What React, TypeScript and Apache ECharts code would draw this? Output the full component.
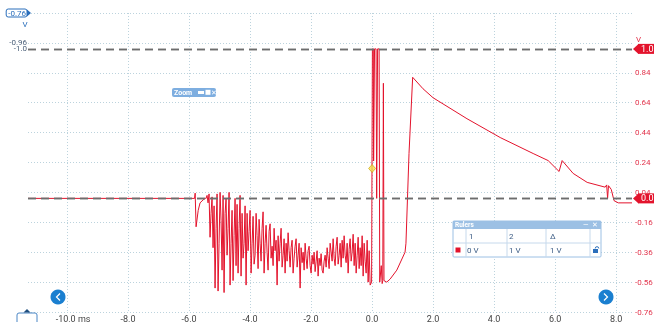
import React, { useEffect, useRef } from 'react';
import * as echarts from 'echarts';

// ---- axes ----
const X_MIN = -11.28;
const X_MAX = 8.52;
const Y_MIN = -0.76;
const Y_MAX = 1.24;
const Y_STEP = 0.2;
const LEFT_MIN = -2.76;
const LEFT_MAX = -0.76;
const leftTickLabels = ['-0.76', '-0.96'];
const rightHiddenAbove = 1.0;

// ---- rulers ----
const rulerValues = [1.0, 0.0];
const rulerLabels = ['1.0', '0.0'];
const rulerLeftLabels = ['-1.0', ''];
const rulerHeaders = ['1', '2', 'Δ'];
const rulerReadings = ['0 V', '1 V', '1 V'];

// ---- trace (time in ms, volts) ----
const baseline: [number, number][] = [[-11.28, 0], [-5.82, 0]];
const firstDip: [number, number][] = [
  [-5.8, 0.035], [-5.77, -0.19], [-5.7, -0.08], [-5.64, -0.03], [-5.54, -0.01], [-5.47, 0.0],
];
const noiseStart = -5.443;
const noiseStep = 0.0328;
const noiseValues = [
  0.0, 0.02, -0.03, 0.03, -0.26, -0.1, 0.01, -0.33, -0.05, -0.6,
  -0.2, 0.03, -0.62, -0.3, 0.04, -0.15, -0.48, 0.02, -0.63, -0.1,
  0.0, -0.38, -0.2, 0.04, -0.58, -0.3, -0.08, -0.55, -0.25, 0.0,
  -0.45, -0.04, -0.5, -0.2, 0.02, -0.52, -0.1, -0.4, -0.3, -0.05,
  -0.58, -0.1, -0.35, -0.22, -0.08, -0.5, -0.3, -0.12, -0.44, -0.38,
  -0.1, -0.25, -0.47, -0.14, -0.3, -0.42, -0.2, -0.09, -0.5, -0.3,
  -0.18, -0.36, -0.48, -0.22, -0.17, -0.4, -0.32, -0.45, -0.2, -0.35,
  -0.28, -0.58, -0.25, -0.42, -0.3, -0.2, -0.46, -0.38, -0.27, -0.5,
  -0.3, -0.42, -0.23, -0.35, -0.46, -0.33, -0.28, -0.5, -0.4, -0.32,
  -0.27, -0.46, -0.38, -0.3, -0.6, -0.33, -0.43, -0.36, -0.48, -0.3,
  -0.4, -0.47, -0.35, -0.32, -0.45, -0.5, -0.38, -0.44, -0.36, -0.49,
  -0.42, -0.35, -0.52, -0.4, -0.45, -0.37, -0.48, -0.5, -0.42, -0.38,
  -0.46, -0.33, -0.4, -0.47, -0.3, -0.36, -0.42, -0.27, -0.4, -0.45,
  -0.32, -0.26, -0.44, -0.38, -0.3, -0.46, -0.28, -0.4, -0.25, -0.38,
  -0.43, -0.3, -0.5, -0.34, -0.27, -0.42, -0.36, -0.24, -0.45, -0.3,
  -0.5, -0.38, -0.26, -0.47, -0.33, -0.45, -0.25, -0.52, -0.3, -0.42,
  -0.5, -0.28, -0.56, -0.35, -0.58,
];
const triggerBurst: [number, number][] = [
  [-0.016, -0.56], [0.01, 1.0], [0.04, 1.0], [0.05, 0.25], [0.08, 1.0], [0.13, 1.0],
  [0.15, 0.0], [0.18, 1.0], [0.23, 1.0], [0.25, -0.56], [0.3, -0.45], [0.33, -0.57],
  [0.35, -0.55], [0.37, 0.77], [0.39, -0.55], [0.48, -0.56], [0.59, -0.54], [0.81, -0.48],
  [1.08, -0.36], [1.11, -0.3], [1.21, 0.3], [1.33, 0.81],
];
const decay: [number, number][] = [
  [1.67, 0.733], [2.0, 0.673], [3.11, 0.533], [4.2, 0.407], [5.28, 0.3], [5.77, 0.253],
  [6.13, 0.18], [6.23, 0.253], [6.59, 0.167], [7.05, 0.107], [7.64, 0.075], [7.69, 0.09],
  [7.72, 0.0], [7.75, 0.085], [7.84, 0.06], [7.93, -0.015], [8.07, -0.03], [8.52, -0.03],
];
const triggerPoint: [number, number][] = [[0, 0.2]];

const RED = '#e3132c';
const LABEL_RED = '#e2344c';
const BLUE = '#2a6ebb';
const GRID = '#bcd3dd';
const FONT = 'Roboto, "Noto Sans", sans-serif';

const trace: [number, number][] = [
  ...baseline,
  ...firstDip,
  ...noiseValues.map((v, i) => [noiseStart + i * noiseStep, v] as [number, number]),
  ...triggerBurst,
  ...decay,
];

const txt = (text: string, x: number, y: number, fill: string, fontSize = 8, extra: any = {}) => ({
  type: 'text',
  x,
  y,
  style: { text, fill, fontSize, fontFamily: FONT, verticalAlign: 'middle', ...extra },
  z: 100,
});

const tableX = 453, tableY = 221, tableW = 148, headH = 8, rowH = 14;
const colX = [466, 507, 546, 590];
const textX = [469, 509, 550];

const staticGraphics: any[] = [
  // zoom tool box
  { type: 'rect', shape: { x: 172, y: 88, width: 44, height: 9, r: 2 }, style: { fill: '#7eaee0' }, z: 100 },
  txt('Zoom', 174, 92.5, '#ffffff', 7, { fontWeight: 'bold' }),
  { type: 'rect', shape: { x: 198, y: 91, width: 6, height: 3 }, style: { fill: '#ffffff' }, z: 101 },
  { type: 'rect', shape: { x: 205.5, y: 89.8, width: 5, height: 5 }, style: { fill: '#ffffff' }, z: 101 },
  txt('✕', 211, 92.5, '#ffffff', 7),
  // rulers table
  { type: 'rect', shape: { x: tableX, y: tableY, width: tableW, height: headH + rowH * 2, r: 1 }, style: { fill: '#ffffff', stroke: '#9cc0e4', lineWidth: 1 }, z: 100 },
  { type: 'rect', shape: { x: tableX, y: tableY, width: tableW, height: headH }, style: { fill: '#9cc0e4' }, z: 100 },
  txt('Rulers', 455, tableY + 4, '#ffffff', 6.5, { fontWeight: 'bold' }),
  txt('—', 583, tableY + 4, '#ffffff', 7),
  txt('✕', 592, tableY + 4, '#ffffff', 7),
  { type: 'line', shape: { x1: tableX, y1: tableY + headH + rowH, x2: tableX + tableW, y2: tableY + headH + rowH }, style: { stroke: '#c6d9ec', lineWidth: 1 }, z: 100 },
  ...colX.map((cx) => ({ type: 'line', shape: { x1: cx, y1: tableY + headH, x2: cx, y2: tableY + headH + rowH * 2 }, style: { stroke: '#c6d9ec', lineWidth: 1 }, z: 100 })),
  ...rulerHeaders.map((h, i) => txt(h, textX[i], tableY + headH + rowH / 2, '#3d5d85', 8)),
  ...rulerReadings.map((h, i) => txt(h, i === 0 ? 467 : textX[i], tableY + headH + rowH * 1.5, '#3d5d85', 8)),
  { type: 'rect', shape: { x: 455.5, y: tableY + headH + rowH + 4.5, width: 5, height: 5 }, style: { fill: RED }, z: 101 },
  { type: 'rect', shape: { x: 593, y: tableY + headH + rowH + 6, width: 5, height: 4 }, style: { fill: BLUE }, z: 101 },
  { type: 'arc', shape: { cx: 597, cy: tableY + headH + rowH + 5.5, r: 1.8, startAngle: Math.PI, endAngle: 2 * Math.PI }, style: { stroke: BLUE, fill: 'none', lineWidth: 1 }, z: 101 },
  // nav buttons
  { type: 'circle', shape: { cx: 58, cy: 297, r: 7.5 }, style: { fill: '#1a7fd0' }, z: 100 },
  { type: 'polyline', shape: { points: [[60, 293.5], [56.5, 297], [60, 300.5]] }, style: { stroke: '#ffffff', lineWidth: 1.2, fill: 'none' }, z: 101 },
  { type: 'circle', shape: { cx: 606, cy: 297, r: 7.5 }, style: { fill: '#1a7fd0' }, z: 100 },
  { type: 'polyline', shape: { points: [[604, 293.5], [607.5, 297], [604, 300.5]] }, style: { stroke: '#ffffff', lineWidth: 1.2, fill: 'none' }, z: 101 },
  // time ruler handle
  { type: 'rect', shape: { x: 17, y: 313, width: 20, height: 14, r: 2 }, style: { fill: '#ffffff', stroke: '#4a86c5', lineWidth: 1 }, z: 100 },
  { type: 'polygon', shape: { points: [[23.5, 312.5], [27, 309], [30.5, 312.5]] }, style: { fill: '#1f4f7f' }, z: 101 },
  // channel units
  txt('V', 22.5, 24, BLUE, 8),
  txt('V', 636, 39, LABEL_RED, 8),
  // left scale marker arrow
  { type: 'polygon', shape: { points: [[27, 9.5], [31, 13], [27, 16.5]] }, style: { fill: BLUE }, z: 101 },
];

const option: any = {
  animation: false,
  textStyle: { fontFamily: FONT },
  grid: { left: 28, right: 22, top: 13, bottom: 10, containLabel: false, outerBoundsMode: 'none' },
  xAxis: {
    type: 'value',
    min: X_MIN,
    max: X_MAX,
    splitNumber: 10,
    minInterval: 2,
    maxInterval: 2,
    axisLine: { show: false },
    axisTick: { show: false },
    splitLine: { show: true, showMinLine: false, showMaxLine: false, lineStyle: { color: GRID, type: [1, 2], width: 1 } },
    axisLabel: {
      showMinLabel: false,
      showMaxLabel: false,
      fontSize: 9,
      color: '#444',
      margin: 2,
      formatter: (v: number) => (Math.abs(v + 10) < 1e-6 ? '{s|}{a|-10.0 ms}' : v.toFixed(1)),
      rich: { s: { width: 12 }, a: { fontSize: 9, color: '#444' } },
    },
  },
  yAxis: [
    {
      type: 'value',
      position: 'right',
      min: Y_MIN,
      max: Y_MAX,
      interval: Y_STEP,
      axisLine: { show: false },
      axisTick: { show: false },
      splitLine: { show: true, lineStyle: { color: GRID, type: [1, 2], width: 1 } },
      axisLabel: {
        fontSize: 8,
        color: LABEL_RED,
        margin: 3,
        formatter: (v: number) => (v > rightHiddenAbove ? '' : v.toFixed(2)),
      },
    },
    {
      type: 'value',
      position: 'left',
      min: LEFT_MIN,
      max: LEFT_MAX,
      interval: Y_STEP,
      axisLine: { show: false },
      axisTick: { show: false },
      splitLine: { show: false },
      axisLabel: {
        fontSize: 8,
        color: '#4a5f78',
        margin: 1,
        formatter: (v: number) => {
          const s = v.toFixed(2);
          if (s === leftTickLabels[0]) return '{box|' + s + '}';
          return leftTickLabels.includes(s) ? s : '';
        },
        rich: {
          box: { color: BLUE, fontSize: 8, borderColor: BLUE, borderWidth: 1, borderRadius: 2, padding: [0, 1, 0, 2] },
        },
      },
    },
  ],
  series: [
    {
      type: 'line',
      data: trace,
      showSymbol: false,
      symbol: 'none',
      lineStyle: { color: RED, width: 1 },
      z: 3,
      markLine: {
        silent: true,
        symbol: 'none',
        animation: false,
        lineStyle: { color: '#6d6d6d', type: [8, 5], width: 1.3 },
        data: [
          ...rulerValues.map((v, i) => ({
            yAxis: v,
            label: {
              show: true,
              position: 'end',
              distance: 6,
              formatter: rulerLabels[i],
              color: '#ffffff',
              fontSize: 9,
              backgroundColor: RED,
              padding: [1, 10, 0, 3],
            },
          })),
          ...rulerValues.map((v, i) => ({
            yAxis: v,
            label: {
              show: rulerLeftLabels[i] !== '',
              position: 'start',
              distance: 1,
              formatter: rulerLeftLabels[i],
              color: '#4a5f78',
              fontSize: 8,
            },
          })),
        ],
      },
    },
    {
      type: 'scatter',
      data: triggerPoint,
      symbol: 'diamond',
      symbolSize: [7, 8],
      itemStyle: { color: '#f4e04d', borderColor: '#c9a000', borderWidth: 0.8 },
      z: 5,
    },
  ],
};

export default function App() {
  const ref = useRef<HTMLDivElement>(null);
  useEffect(() => {
    const chart = echarts.init(ref.current!, null, { renderer: 'svg' });
    chart.setOption(option);
    const arrows = rulerValues.map((v) => {
      const p = chart.convertToPixel({ xAxisIndex: 0, yAxisIndex: 0 }, [X_MAX, v]) as number[];
      const px = p[0];
      const py = p[1];
      return {
        type: 'polygon',
        shape: { points: [[px + 1, py], [px + 6.5, py - 5], [px + 6.5, py + 5]] },
        style: { fill: RED },
        z: 100,
      };
    });
    chart.setOption({ graphic: [...staticGraphics, ...arrows] });
    return () => chart.dispose();
  }, []);
  return <div ref={ref} style={{ position: 'fixed', left: 0, top: 0, width: 654, height: 322 }} />;
}
